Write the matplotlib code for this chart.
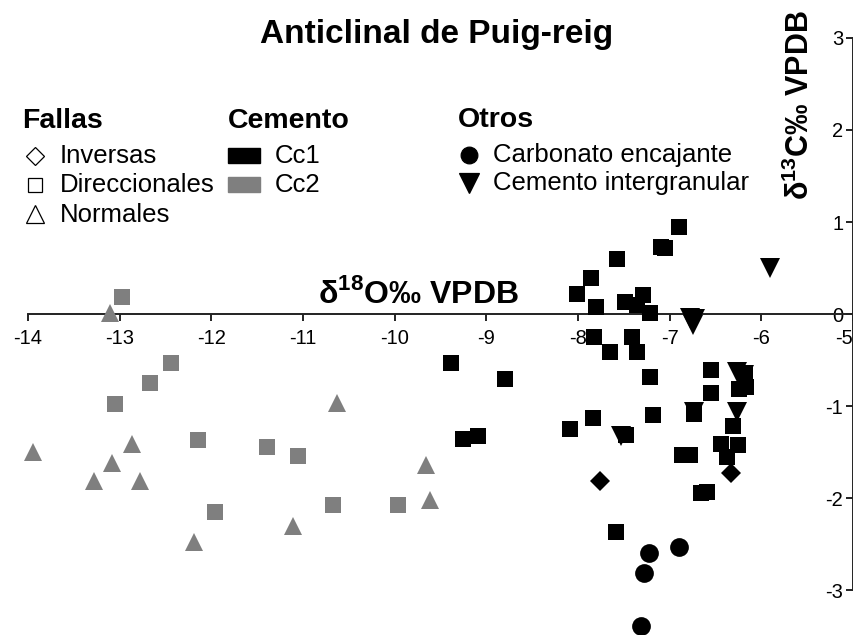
import matplotlib
matplotlib.use('Agg')
import matplotlib.pyplot as plt
from matplotlib.lines import Line2D
from matplotlib.patches import Rectangle

plt.rcParams['font.family'] = ['Liberation Sans', 'DejaVu Sans']
plt.rcParams['mathtext.fontset'] = 'custom'
plt.rcParams['mathtext.rm'] = 'Liberation Sans'
plt.rcParams['mathtext.bf'] = 'Liberation Sans:bold'
plt.rcParams['axes.unicode_minus'] = False

GRAY = '#7f7f7f'

# values (d18O, d13C in permil VPDB)
# Cc2 - direccionales (gray squares)
cc2_dir_x = [-12.97, -12.44, -12.67, -13.05, -12.14, -11.39, -11.05, -11.96, -10.67, -9.96]
cc2_dir_y = [0.18, -0.53, -0.75, -0.98, -1.37, -1.45, -1.54, -2.15, -2.08, -2.08]
# Cc2 - normales (gray triangles)
cc2_norm_x = [-13.10, -13.94, -12.87, -13.08, -13.28, -12.78, -10.63, -12.19, -11.11, -9.66, -9.62]
cc2_norm_y = [0.01, -1.50, -1.41, -1.62, -1.82, -1.81, -0.97, -2.48, -2.30, -1.64, -2.02]
# Cc1 - direccionales (black squares)
cc1_dir_x = [-6.90, -7.10, -7.05, -7.57, -7.86, -8.01, -7.80, -7.49, -7.29, -7.36,
             -7.22, -7.83, -7.65, -7.41, -7.36, -7.21, -9.39, -8.80, -6.55, -6.55,
             -6.18, -6.24, -6.17, -9.25, -9.09, -8.09, -7.84, -7.18, -6.31, -6.44,
             -6.26, -6.37, -6.87, -6.78, -6.66, -6.59, -7.59, -7.48, -6.73]
cc1_dir_y = [0.95, 0.73, 0.72, 0.60, 0.39, 0.22, 0.08, 0.13, 0.21, 0.10,
             0.01, -0.25, -0.41, -0.25, -0.41, -0.68, -0.53, -0.71, -0.61, -0.86,
             -0.66, -0.81, -0.79, -1.36, -1.33, -1.25, -1.13, -1.10, -1.22, -1.41,
             -1.42, -1.55, -1.53, -1.53, -1.95, -1.93, -2.37, -1.31, -1.09]
# Cc1 - inversas (black diamonds)
cc1_inv_x = [-7.76, -6.33]
cc1_inv_y = [-1.81, -1.73]
# cemento intergranular (black down triangles)
interg_x = [-5.91, -6.78, -6.72, -6.75, -6.27, -6.19, -6.73, -6.27, -7.53]
interg_y = [0.50, -0.04, -0.05, -0.12, -0.63, -0.66, -1.06, -1.06, -1.33]
# carbonato encajante (black circles)
encaj_x = [-7.23, -6.90, -7.28, -7.31]
encaj_y = [-2.60, -2.53, -2.82, -3.39]

x_ticks = list(range(-14, -4))
y_ticks = list(range(-3, 4))

W, H = 854, 635
fig = plt.figure(figsize=(W / 100, H / 100), dpi=100)
ax = fig.add_axes([0, 0, 1, 1])
ax.set_xlim(-14.305, -4.99)
ax.set_ylim(-3.489, 3.413)

ax.plot(cc2_dir_x, cc2_dir_y, 's', color=GRAY, ms=12, mew=0, zorder=3)
ax.plot(cc2_norm_x, cc2_norm_y, '^', color=GRAY, ms=13.5, mew=0, zorder=3)
ax.plot(cc1_dir_x, cc1_dir_y, 's', color='black', ms=11.5, mew=0, zorder=3)
ax.plot(interg_x, interg_y, 'v', color='black', ms=14, mew=0, zorder=3)
ax.plot(cc1_inv_x, cc1_inv_y, 'D', color='black', ms=10.5, mew=0, zorder=3)
ax.plot(encaj_x, encaj_y, 'o', color='black', ms=13.5, mew=0, zorder=3)

# axes crossing: x axis at y=0, y axis at x=-5
for s in ['top', 'right']:
    ax.spines[s].set_visible(False)
ax.spines['bottom'].set_position(('data', 0))
ax.spines['left'].set_position(('data', -5))
ax.spines['bottom'].set_bounds(-14, -5)
ax.spines['left'].set_bounds(-3, 3)
for s in ['bottom', 'left']:
    ax.spines[s].set_linewidth(1.4)
    ax.spines[s].set_color('#222222')
ax.set_xticks(x_ticks)
ax.set_yticks(y_ticks)
ax.tick_params(axis='both', direction='out', length=5, width=1.4, color='#222222',
               labelsize=14.5)
ax.tick_params(axis='x', pad=6)
ax.tick_params(axis='y', pad=2)
# keep the last x label (-5) inside the picture
ax.get_xticklabels()[-1].set_horizontalalignment('right')
ax.patch.set_visible(False)


def ftxt(x, y, s, **kw):
    fig.text(x / W, 1 - y / H, s, **kw)


ftxt(437, 43, 'Anticlinal de Puig-reig', fontsize=24, fontweight='bold',
     ha='center', va='baseline')
ftxt(418, 303, r'δ$^{\mathbf{18}}$O‰ VPDB', fontsize=23, fontweight='bold',
     ha='center', va='baseline')
ftxt(800, 105, r'δ$^{\mathbf{13}}$C‰ VPDB', fontsize=22, fontweight='bold',
     ha='center', va='center', rotation=90)

# legend blocks
head = dict(fontsize=20.5, fontweight='bold', va='baseline')
item = dict(fontsize=18.5, va='baseline')
ftxt(22, 128, 'Fallas', **head)
ftxt(228, 128, 'Cemento', **head)
ftxt(458, 127, 'Otros', **head)


def key(x, y, marker, ms, face, edge='black'):
    fig.add_artist(Line2D([x / W], [1 - y / H], marker=marker, ms=ms, mfc=face,
                          mec=edge, mew=0.9, ls='none'))


key(35, 156, 'D', 9.5, 'white')
ftxt(60, 163, 'Inversas', **item)
key(35, 185, 's', 10, 'white')
ftxt(60, 192, 'Direccionales', **item)
key(35, 214, '^', 13, 'white')
ftxt(60, 222, 'Normales', **item)

for yy, col, lab in [(148, 'black', 'Cc1'), (177, GRAY, 'Cc2')]:
    fig.add_artist(Rectangle((228 / W, 1 - (yy + 15) / H), 32 / W, 15 / H,
                             transform=fig.transFigure, color=col))
    ftxt(275, yy + 15, lab, **item)

key(469, 155, 'o', 12, 'black', 'black')
ftxt(493, 162, 'Carbonato encajante', **item)
key(469, 183, 'v', 14, 'black', 'black')
ftxt(493, 190, 'Cemento intergranular', **item)

fig.savefig('out.png', dpi=100)
